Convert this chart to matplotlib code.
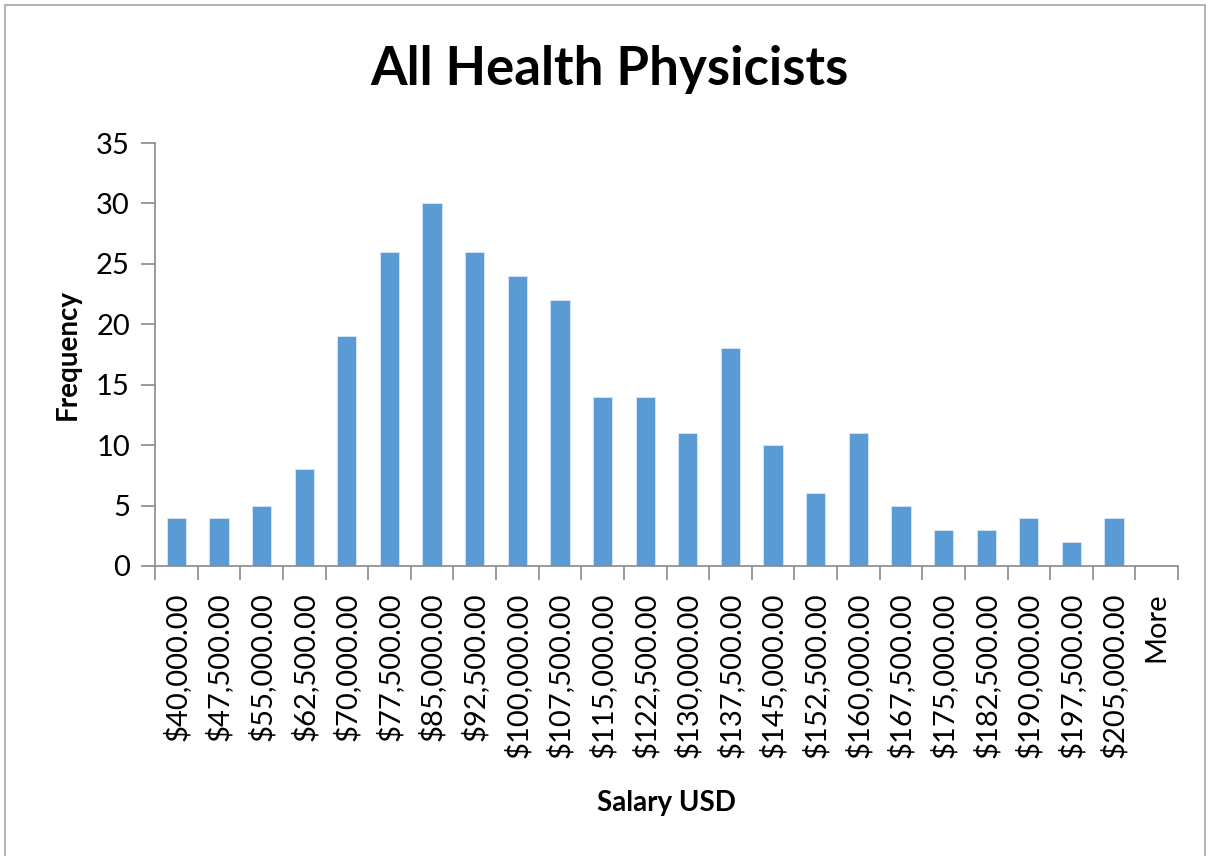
import matplotlib.pyplot as plt
from matplotlib.patches import Rectangle

# histogram bins (upper edges) and counts
bins = ["$40,000.00", "$47,500.00", "$55,000.00", "$62,500.00", "$70,000.00",
        "$77,500.00", "$85,000.00", "$92,500.00", "$100,000.00", "$107,500.00",
        "$115,000.00", "$122,500.00", "$130,000.00", "$137,500.00", "$145,000.00",
        "$152,500.00", "$160,000.00", "$167,500.00", "$175,000.00", "$182,500.00",
        "$190,000.00", "$197,500.00", "$205,000.00", "More"]
counts = [4, 4, 5, 8, 19, 26, 30, 26, 24, 22, 14, 14, 11, 18, 10, 6, 11, 5,
          3, 3, 4, 2, 4, 0]

plt.rcParams['font.family'] = ['Lato', 'DejaVu Sans']

fig = plt.figure(figsize=(12.11, 8.56), dpi=100)
# grey outer frame like the exported chart area
fig.patches.append(Rectangle((5 / 1211, -0.01), 1200 / 1211, 1 - 5 / 856 + 0.01,
                             transform=fig.transFigure, fill=False,
                             edgecolor='#a6a6a6', linewidth=1.2))

ax = fig.add_axes([155 / 1211, 1 - 566 / 856, (1178 - 155) / 1211, (566 - 143) / 856])
x = list(range(len(bins)))
ax.bar(x, counts, width=0.45, color='#5b9bd5', edgecolor='#dbe8f5', linewidth=0.6)

ax.set_xlim(-0.5, len(bins) - 0.5)
ax.set_ylim(0, 35)
ax.set_yticks(range(0, 36, 5))
ax.set_xticks([i - 0.5 for i in range(len(bins) + 1)])
ax.set_xticklabels([])
ax.set_xticks(x, minor=True)
ax.set_xticklabels(bins, minor=True, rotation=90, fontsize=21)
ax.tick_params(axis='x', which='minor', length=0, pad=19)
ax.tick_params(axis='x', which='major', length=10, color='#898989', width=1.2)
ax.tick_params(axis='y', length=10, color='#898989', width=1.2, labelsize=21, pad=8)

for s in ['top', 'right']:
    ax.spines[s].set_visible(False)
for s in ['left', 'bottom']:
    ax.spines[s].set_color('#898989')
    ax.spines[s].set_linewidth(1.2)

ax.set_ylabel('Frequency', fontsize=20, fontweight='bold')
ax.yaxis.set_label_coords(-74 / 1023, 0.5)
ax.set_xlabel('Salary USD', fontsize=20, fontweight='bold')
ax.xaxis.set_label_coords(0.5, -224 / 423)
fig.text(609 / 1211, 1 - 70 / 856, 'All Health Physicists', ha='center', va='center',
         fontsize=38, fontweight='bold')

fig.savefig('out.png', dpi=100)
